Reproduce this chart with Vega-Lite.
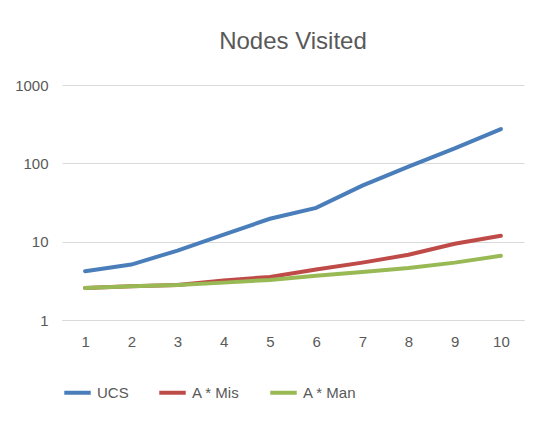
{
  "$schema": "https://vega.github.io/schema/vega-lite/v6.json",
  "autosize": {"type": "fit", "contains": "padding"},
  "width": 542,
  "height": 427,
  "padding": {"left": 14, "right": 18, "top": 30, "bottom": 26},
  "title": {"text": "Nodes Visited", "fontSize": 24, "font": "Liberation Sans", "fontWeight": "normal", "color": "#595959", "offset": 24},
  "config": {
    "font": "Liberation Sans",
    "view": {"stroke": null},
    "axis": {"labelColor": "#595959", "labelFontSize": 15, "title": null, "ticks": false, "domain": false}
  },
  "data": {"values": [
    {"d": 1, "s": "UCS", "v": 4.2}, {"d": 2, "s": "UCS", "v": 5.1}, {"d": 3, "s": "UCS", "v": 7.7},
    {"d": 4, "s": "UCS", "v": 12.3}, {"d": 5, "s": "UCS", "v": 19.6}, {"d": 6, "s": "UCS", "v": 27},
    {"d": 7, "s": "UCS", "v": 52}, {"d": 8, "s": "UCS", "v": 91}, {"d": 9, "s": "UCS", "v": 155},
    {"d": 10, "s": "UCS", "v": 274},
    {"d": 1, "s": "A * Mis", "v": 2.57}, {"d": 2, "s": "A * Mis", "v": 2.7}, {"d": 3, "s": "A * Mis", "v": 2.8},
    {"d": 4, "s": "A * Mis", "v": 3.2}, {"d": 5, "s": "A * Mis", "v": 3.55}, {"d": 6, "s": "A * Mis", "v": 4.4},
    {"d": 7, "s": "A * Mis", "v": 5.4}, {"d": 8, "s": "A * Mis", "v": 6.8}, {"d": 9, "s": "A * Mis", "v": 9.4},
    {"d": 10, "s": "A * Mis", "v": 11.9},
    {"d": 1, "s": "A * Man", "v": 2.57}, {"d": 2, "s": "A * Man", "v": 2.7}, {"d": 3, "s": "A * Man", "v": 2.8},
    {"d": 4, "s": "A * Man", "v": 3.0}, {"d": 5, "s": "A * Man", "v": 3.25}, {"d": 6, "s": "A * Man", "v": 3.66},
    {"d": 7, "s": "A * Man", "v": 4.1}, {"d": 8, "s": "A * Man", "v": 4.6}, {"d": 9, "s": "A * Man", "v": 5.4},
    {"d": 10, "s": "A * Man", "v": 6.6}
  ]},
  "mark": {"type": "line", "strokeWidth": 4, "strokeCap": "round"},
  "encoding": {
    "x": {"field": "d", "type": "ordinal", "scale": {"type": "point", "padding": 0.5}, "axis": {"labelAngle": 0, "grid": false, "labelPadding": 14, "domain": true, "domainColor": "#d9d9d9"}},
    "y": {"field": "v", "type": "quantitative", "scale": {"type": "log", "domain": [1, 1000]}, "axis": {"values": [1, 10, 100, 1000], "format": "d", "grid": true, "gridColor": "#d9d9d9", "labelPadding": 14}},
    "color": {
      "field": "s", "type": "nominal",
      "scale": {"domain": ["UCS", "A * Mis", "A * Man"], "range": ["#4a7ebb", "#be4b48", "#98b954"]},
      "legend": {"orient": "bottom", "direction": "horizontal", "title": null, "symbolType": "stroke", "symbolStrokeWidth": 4, "symbolSize": 700, "labelFontSize": 15, "labelColor": "#595959", "columnPadding": 22, "offset": 28}
    }
  }
}
